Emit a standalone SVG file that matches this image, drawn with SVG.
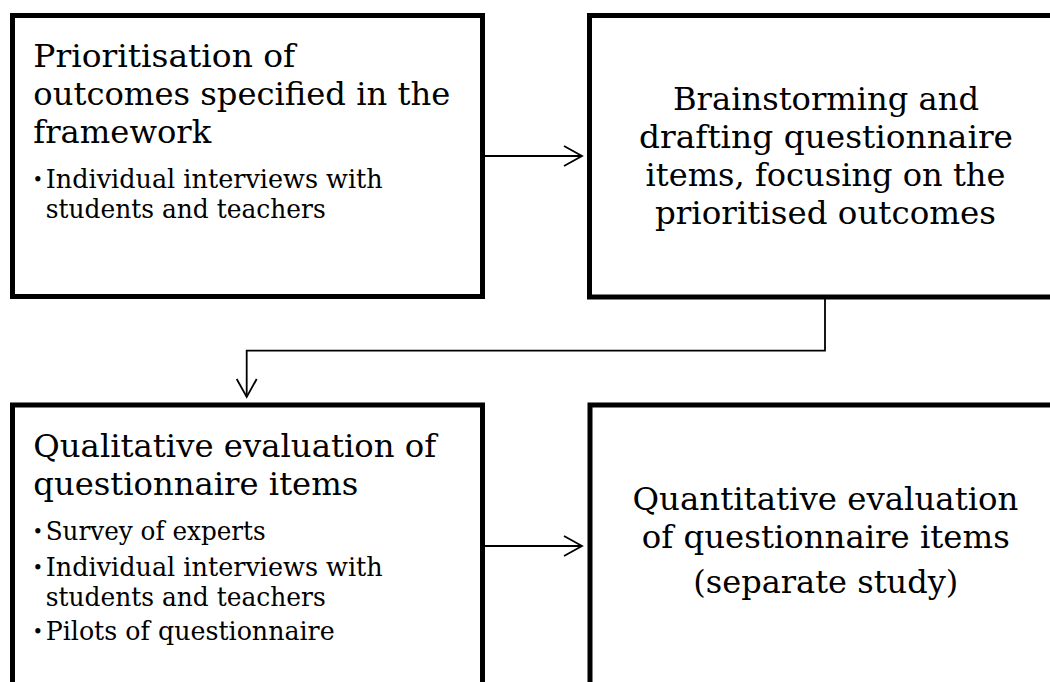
<svg xmlns="http://www.w3.org/2000/svg" width="1050" height="682" viewBox="0 0 1050 682">
<style>
.box{fill:#fff;stroke:#000;stroke-width:5}
.t{font-family:"DejaVu Serif","Liberation Serif",serif;fill:#000}
.h{font-size:32.4px}
.b{font-size:25.4px}
.d{font-size:18px}
.c{text-anchor:middle}
.conn{fill:none;stroke:#000;stroke-width:1.8}
</style>
<defs>
<marker id="arr" markerUnits="userSpaceOnUse" markerWidth="24" markerHeight="26" refX="19" refY="11" orient="auto" viewBox="0 0 24 26">
<path d="M1,1 L19,11 L1,21" fill="none" stroke="#000" stroke-width="1.8"/>
</marker>
</defs>
<rect width="1050" height="682" fill="#fff"/>
<g id="node-prioritisation">
<rect class="box" x="12.5" y="15.5" width="470" height="281"/>
<text class="t h" x="33.3" y="66.7" textLength="262" lengthAdjust="spacingAndGlyphs">Prioritisation of</text>
<text class="t h" x="33.3" y="104.5" textLength="417" lengthAdjust="spacingAndGlyphs">outcomes specified in the</text>
<text class="t h" x="33.3" y="142.5" textLength="178" lengthAdjust="spacingAndGlyphs">framework</text>
<text class="t d" x="32.5" y="186.3">•</text>
<text class="t b" x="45.7" y="188.3" textLength="337" lengthAdjust="spacingAndGlyphs">Individual interviews with</text>
<text class="t b" x="45.7" y="218.3" textLength="280" lengthAdjust="spacingAndGlyphs">students and teachers</text>
</g>
<g id="node-brainstorming">
<rect class="box" x="589.5" y="15.5" width="480" height="281.5"/>
<text class="t h c" x="826" y="109.5" textLength="306" lengthAdjust="spacingAndGlyphs">Brainstorming and</text>
<text class="t h c" x="826" y="147.7" textLength="374" lengthAdjust="spacingAndGlyphs">drafting questionnaire</text>
<text class="t h c" x="825.5" y="186" textLength="360" lengthAdjust="spacingAndGlyphs">items, focusing on the</text>
<text class="t h c" x="825.5" y="224" textLength="341" lengthAdjust="spacingAndGlyphs">prioritised outcomes</text>
</g>
<g id="node-qualitative">
<rect class="box" x="12.5" y="405" width="470" height="300"/>
<text class="t h" x="33.3" y="456.7" textLength="403" lengthAdjust="spacingAndGlyphs">Qualitative evaluation of</text>
<text class="t h" x="33.3" y="495" textLength="325" lengthAdjust="spacingAndGlyphs">questionnaire items</text>
<text class="t d" x="32.5" y="538">•</text>
<text class="t b" x="45.7" y="540" textLength="220" lengthAdjust="spacingAndGlyphs">Survey of experts</text>
<text class="t d" x="32.5" y="574">•</text>
<text class="t b" x="45.7" y="576" textLength="337" lengthAdjust="spacingAndGlyphs">Individual interviews with</text>
<text class="t b" x="45.7" y="606" textLength="280" lengthAdjust="spacingAndGlyphs">students and teachers</text>
<text class="t d" x="32.5" y="638">•</text>
<text class="t b" x="45.7" y="640" textLength="289" lengthAdjust="spacingAndGlyphs">Pilots of questionnaire</text>
</g>
<g id="node-quantitative">
<rect class="box" x="590" y="405" width="480" height="300"/>
<text class="t h c" x="825.5" y="510" textLength="386" lengthAdjust="spacingAndGlyphs">Quantitative evaluation</text>
<text class="t h c" x="825.8" y="548.3" textLength="368" lengthAdjust="spacingAndGlyphs">of questionnaire items</text>
<text class="t h c" x="825.8" y="593" textLength="265" lengthAdjust="spacingAndGlyphs">(separate study)</text>
</g>
<g id="connectors">
<path class="conn" d="M485,156 L582,156" marker-end="url(#arr)"/>
<path class="conn" d="M825,299 L825,350.7 L246.7,350.7 L246.7,397" marker-end="url(#arr)"/>
<path class="conn" d="M485,546 L582,546" marker-end="url(#arr)"/>
</g>
</svg>
